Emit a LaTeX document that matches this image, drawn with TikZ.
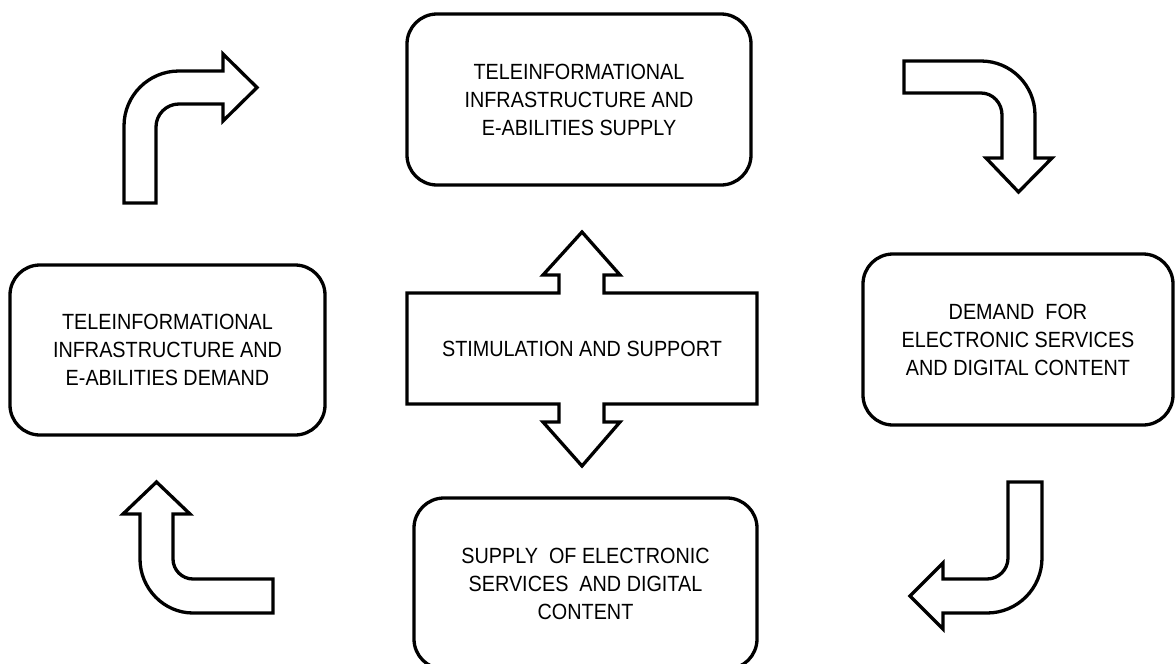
\documentclass[tikz,border=0pt]{standalone}
\usepackage{fontspec}
\setmainfont{Liberation Sans}[FakeStretch=0.9]
\begin{document}
\begin{tikzpicture}[x=1pt,y=-1pt,
  box/.style={draw=black,line width=3.3pt,rounded corners=30pt,fill=white,
    inner sep=0pt,align=center,font=\fontsize{22}{28}\selectfont},
  blockarrow/.style={draw=black,line width=3.3pt,fill=white},
  lbl/.style={inner sep=0pt,align=center,font=\fontsize{22}{28}\selectfont}]
\clip (0,0) rectangle (1176,664);
\fill[white] (0,0) rectangle (1176,664);

% boxes
\node[box,minimum width=344pt,minimum height=171pt] (supplyInfra) at (579,99.5)
  {TELEINFORMATIONAL\\INFRASTRUCTURE AND\\E-ABILITIES SUPPLY};
\node[box,minimum width=315pt,minimum height=170pt] (demandInfra) at (167.5,350)
  {TELEINFORMATIONAL\\INFRASTRUCTURE AND\\E-ABILITIES DEMAND};
\node[box,minimum width=310pt,minimum height=171pt] (demandServ) at (1018,339.5)
  {DEMAND\ \ FOR\\ELECTRONIC SERVICES\\AND DIGITAL CONTENT};
\node[box,minimum width=343pt,minimum height=171pt] (supplyServ) at (585.5,583.5)
  {SUPPLY\ \ OF ELECTRONIC\\SERVICES\ \ AND DIGITAL\\CONTENT};

% central double arrow
\draw[blockarrow] (407,293) -- (559,293) -- (559,275) -- (543,275) -- (582,232)
  -- (620,275) -- (604,275) -- (604,293) -- (757,293) -- (757,404) -- (604,404)
  -- (604,422) -- (620,422) -- (582,466) -- (543,422) -- (559,422) -- (559,404)
  -- (407,404) -- cycle;
\node[lbl] (stim) at (582,349) {STIMULATION AND SUPPORT};

% top-left arrow (up, then right)
\draw[blockarrow] (124,203) -- (124,126) .. controls (124,95.6) and (148.6,71) .. (179,71)
  -- (223,71) -- (223,54) -- (257,87.5) -- (223,121) -- (223,104) -- (179,104)
  .. controls (166.3,104) and (156,114.3) .. (156,127) -- (156,203) -- cycle;

% top-right arrow (right, then down)
\draw[blockarrow] (904,61) -- (981,61) .. controls (1010.8,61) and (1035,85.2) .. (1035,115)
  -- (1035,158) -- (1052,158) -- (1018.5,192) -- (986,158) -- (1002,158) -- (1002,115)
  .. controls (1002,103.1) and (992.9,93) .. (981,93) -- (904,93) -- cycle;

% bottom-right arrow (down, then left)
\draw[blockarrow] (1008,482) -- (1042,482) -- (1042,558) .. controls (1042,588.4) and (1017.4,613) .. (987,613)
  -- (943,613) -- (943,629) -- (910,596) -- (943,563) -- (943,579) -- (987,579)
  .. controls (998.6,579) and (1008,569.6) .. (1008,558) -- cycle;

% bottom-left arrow (left, then up)
\draw[blockarrow] (273,579) -- (193,579) .. controls (182,579) and (173,570) .. (173,559)
  -- (173,514) -- (190,514) -- (156.5,482) -- (123,514) -- (140,514) -- (140,559)
  .. controls (140,588.3) and (163.7,613) .. (193,613) -- (273,613) -- cycle;
\end{tikzpicture}
\end{document}
